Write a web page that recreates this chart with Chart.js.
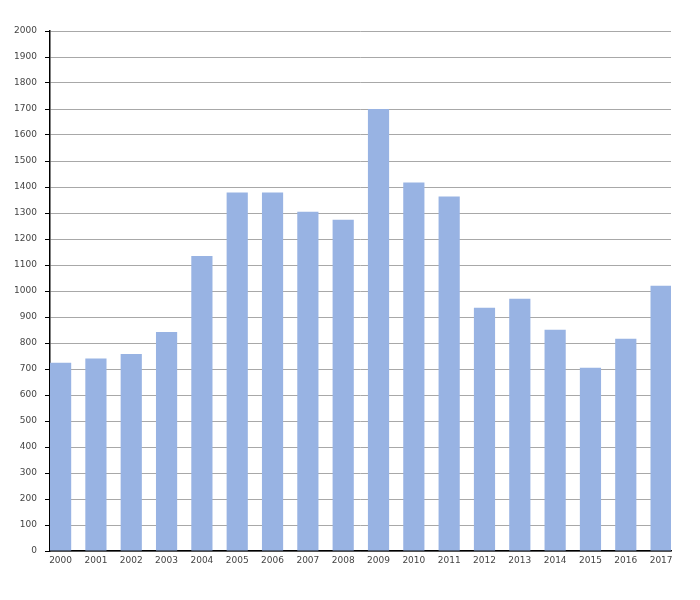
<!DOCTYPE html>
<html>
<head>
  <meta charset="UTF-8">
  <title>Bar chart 2000-2017</title>
  <style>
    body { margin: 0; background: #fff; }
    #wrap { width: 700px; height: 600px; }
  </style>
  <script src="https://cdn.jsdelivr.net/npm/chart.js"></script>
</head>
<body>
  <div id="wrap"><canvas id="chart" width="700" height="600"></canvas></div>

  <script>
    const years = ['2000', '2001', '2002', '2003', '2004', '2005', '2006', '2007', '2008',
                   '2009', '2010', '2011', '2012', '2013', '2014', '2015', '2016', '2017'];
    const values = [724, 740, 758, 842, 1135, 1379, 1379, 1305, 1274,
                    1700, 1417, 1363, 936, 970, 851, 705, 816, 1020];

    const ctx = document.getElementById('chart').getContext('2d');
    const font = { family: 'DejaVu Sans', size: 9 };

    new Chart(ctx, {
      type: 'bar',
      data: {
        datasets: [{
          data: values.map((v, i) => ({ x: i, y: v })),
          backgroundColor: '#98b3e3',
          borderWidth: 0,
          barPercentage: 0.6,
          categoryPercentage: 1
        }]
      },
      options: {
        responsive: false,
        devicePixelRatio: 1,
        animation: false,
        layout: { padding: { top: 31, right: 29, left: 0, bottom: 0 } },
        plugins: { legend: { display: false }, tooltip: { enabled: false } },
        scales: {
          x: {
            type: 'linear',
            offset: false,
            min: -0.3,
            max: 17.28,
            grid: { display: false, drawTicks: false },
            border: { color: '#000', width: 1.5 },
            ticks: {
              stepSize: 1,
              includeBounds: false,
              autoSkip: false,
              maxRotation: 0,
              padding: 4,
              color: '#444',
              font: font,
              callback: v => years[v] !== undefined ? years[v] : ''
            },
            afterFit: s => { s.height = 49; }
          },
          y: {
            min: 0,
            max: 2000,
            grid: { color: '#a8a8a8', lineWidth: 1, tickLength: 5, tickColor: '#000' },
            border: { color: '#000', width: 1.5 },
            ticks: { stepSize: 100, padding: 8, color: '#444', font: font, callback: v => String(v) },
            afterFit: s => { s.width = 50; }
          }
        }
      }
    });
  </script>
</body>
</html>
